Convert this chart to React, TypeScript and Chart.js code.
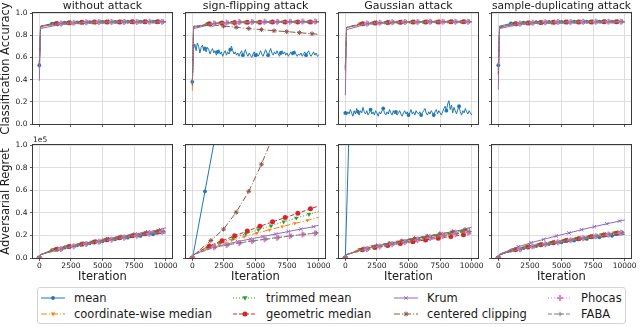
import React, { useEffect, useRef } from "react";
import { Chart, registerables } from "chart.js";
Chart.register(...registerables);

// ---------------- DATA ----------------
const ATTACKS = ["without attack", "sign-flipping attack", "Gaussian attack", "sample-duplicating attack"];
const METHODS = ["mean", "coordinate-wise median", "trimmed mean", "geometric median", "Krum", "centered clipping", "Phocas", "FABA"];
const ITER_TICKS = [0, 2500, 5000, 7500, 10000];
const Y_TICKS = [0, 0.2, 0.4, 0.6, 0.8, 1.0];
const ACC_LABEL = "Classification Accuracy";
const REGRET_LABEL = "Adversarial Regret";
const X_LABEL = "Iteration";
const REGRET_OFFSET_LABEL = "1e5";

// iteration positions for each method (markers are placed at these)
const X_MEAN = [0, 100, 1000, 2000, 3000, 4000, 5000, 6000, 7000, 8000, 9000, 10000];
const X_CWMED = [0, 100, 1110, 2110, 3110, 4110, 5110, 6110, 7110, 8110, 9110, 10000];
const X_TRIM = [0, 100, 1230, 2230, 3230, 4230, 5230, 6230, 7230, 8230, 9230, 10000];
const X_GEO = [0, 100, 1350, 2350, 3350, 4350, 5350, 6350, 7350, 8350, 9350, 10000];
const X_KRUM = [0, 100, 1590, 2590, 3590, 4590, 5590, 6590, 7590, 8590, 9590, 10000];
const X_CC = [0, 100, 1470, 2470, 3470, 4470, 5470, 6470, 7470, 8470, 9470, 10000];
const X_PHOCAS = [0, 100, 1710, 2710, 3710, 4710, 5710, 6710, 7710, 8710, 9710, 10000];
const X_FABA = [0, 100, 1830, 2830, 3830, 4830, 5830, 6830, 7830, 8830, 9830, 10000];
const X_DENSE = [
  0, 100, 200, 300, 400, 500, 600, 700, 800, 900,
  1000, 1100, 1200, 1300, 1400, 1500, 1600, 1700, 1800, 1900,
  2000, 2100, 2200, 2300, 2400, 2500, 2600, 2700, 2800, 2900,
  3000, 3100, 3200, 3300, 3400, 3500, 3600, 3700, 3800, 3900,
  4000, 4100, 4200, 4300, 4400, 4500, 4600, 4700, 4800, 4900,
  5000, 5100, 5200, 5300, 5400, 5500, 5600, 5700, 5800, 5900,
  6000, 6100, 6200, 6300, 6400, 6500, 6600, 6700, 6800, 6900,
  7000, 7100, 7200, 7300, 7400, 7500, 7600, 7700, 7800, 7900,
  8000, 8100, 8200, 8300, 8400, 8500, 8600, 8700, 8800, 8900,
  9000, 9100, 9200, 9300, 9400, 9500, 9600, 9700, 9800, 9900,
  10000,
];

// noisy accuracy of "mean" under attacks
const ACC_SIGNFLIP_MEAN = [
  0.38, 0.68, 0.72, 0.66, 0.73, 0.70, 0.64, 0.69, 0.71, 0.66,
  0.68, 0.65, 0.69, 0.67, 0.63, 0.66, 0.68, 0.64, 0.66, 0.62,
  0.65, 0.67, 0.63, 0.65, 0.61, 0.64, 0.66, 0.62, 0.65, 0.63,
  0.67, 0.70, 0.66, 0.63, 0.65, 0.62, 0.64, 0.61, 0.64, 0.66,
  0.62, 0.64, 0.67, 0.63, 0.61, 0.64, 0.62, 0.60, 0.63, 0.65,
  0.62, 0.64, 0.61, 0.63, 0.66, 0.63, 0.61, 0.64, 0.67, 0.64,
  0.62, 0.65, 0.68, 0.64, 0.62, 0.65, 0.63, 0.66, 0.63, 0.61,
  0.64, 0.66, 0.63, 0.65, 0.62, 0.64, 0.61, 0.63, 0.65, 0.62,
  0.64, 0.66, 0.63, 0.61, 0.63, 0.62, 0.64, 0.61, 0.63, 0.65,
  0.62, 0.64, 0.66, 0.63, 0.61, 0.63, 0.65, 0.62, 0.64, 0.61,
  0.62,
];
const ACC_GAUSS_MEAN = [
  0.10, 0.08, 0.11, 0.09, 0.13, 0.10, 0.07, 0.12, 0.09, 0.14,
  0.11, 0.08, 0.12, 0.10, 0.15, 0.11, 0.09, 0.12, 0.08, 0.10,
  0.13, 0.09, 0.11, 0.08, 0.12, 0.10, 0.07, 0.11, 0.09, 0.12,
  0.14, 0.10, 0.08, 0.11, 0.09, 0.13, 0.10, 0.08, 0.12, 0.09,
  0.11, 0.08, 0.10, 0.12, 0.09, 0.07, 0.10, 0.12, 0.09, 0.11,
  0.08, 0.10, 0.13, 0.09, 0.11, 0.08, 0.12, 0.10, 0.09, 0.11,
  0.08, 0.10, 0.12, 0.14, 0.10, 0.08, 0.11, 0.09, 0.12, 0.10,
  0.08, 0.11, 0.13, 0.09, 0.12, 0.10, 0.08, 0.11, 0.14, 0.16,
  0.12, 0.18, 0.21, 0.13, 0.17, 0.10, 0.15, 0.12, 0.09, 0.13,
  0.16, 0.11, 0.08, 0.12, 0.10, 0.14, 0.11, 0.09, 0.12, 0.10,
  0.08,
];

// Classification accuracy, rows in METHODS order
const ACC_NONE = [
  [0.53, 0.88, 0.905, 0.912, 0.916, 0.918, 0.92, 0.92, 0.921, 0.921, 0.922, 0.922],
  [0.55, 0.87, 0.90, 0.91, 0.914, 0.916, 0.918, 0.919, 0.92, 0.92, 0.921, 0.921],
  [0.52, 0.88, 0.905, 0.912, 0.916, 0.918, 0.92, 0.92, 0.921, 0.921, 0.922, 0.922],
  [0.50, 0.88, 0.905, 0.912, 0.916, 0.918, 0.919, 0.92, 0.921, 0.921, 0.921, 0.922],
  [0.39, 0.86, 0.895, 0.905, 0.91, 0.912, 0.914, 0.915, 0.916, 0.917, 0.917, 0.918],
  [0.54, 0.88, 0.905, 0.912, 0.916, 0.918, 0.92, 0.92, 0.921, 0.921, 0.922, 0.922],
  [0.50, 0.88, 0.905, 0.912, 0.916, 0.918, 0.919, 0.92, 0.92, 0.921, 0.921, 0.922],
  [0.53, 0.88, 0.906, 0.913, 0.917, 0.919, 0.92, 0.921, 0.921, 0.922, 0.922, 0.923],
];
const ACC_SIGNFLIP = [
  ACC_SIGNFLIP_MEAN,
  [0.30, 0.86, 0.90, 0.91, 0.915, 0.917, 0.918, 0.919, 0.92, 0.92, 0.921, 0.921],
  [0.35, 0.87, 0.905, 0.912, 0.916, 0.918, 0.919, 0.92, 0.92, 0.921, 0.921, 0.922],
  [0.36, 0.87, 0.903, 0.91, 0.914, 0.916, 0.917, 0.918, 0.919, 0.92, 0.92, 0.92],
  [0.34, 0.86, 0.90, 0.908, 0.912, 0.914, 0.916, 0.917, 0.918, 0.918, 0.919, 0.919],
  [0.36, 0.88, 0.893, 0.882, 0.872, 0.86, 0.85, 0.84, 0.832, 0.823, 0.813, 0.808],
  [0.37, 0.88, 0.905, 0.914, 0.918, 0.92, 0.921, 0.922, 0.922, 0.923, 0.923, 0.923],
  [0.37, 0.88, 0.906, 0.914, 0.918, 0.92, 0.921, 0.922, 0.922, 0.923, 0.923, 0.924],
];
const ACC_GAUSS = [
  ACC_GAUSS_MEAN,
  [0.50, 0.87, 0.902, 0.91, 0.914, 0.917, 0.918, 0.919, 0.92, 0.92, 0.921, 0.921],
  [0.52, 0.87, 0.904, 0.912, 0.916, 0.918, 0.919, 0.92, 0.921, 0.921, 0.922, 0.922],
  [0.48, 0.87, 0.903, 0.911, 0.915, 0.917, 0.919, 0.92, 0.92, 0.921, 0.921, 0.922],
  [0.26, 0.85, 0.897, 0.906, 0.91, 0.913, 0.915, 0.916, 0.917, 0.917, 0.918, 0.918],
  [0.50, 0.87, 0.904, 0.912, 0.916, 0.918, 0.919, 0.92, 0.921, 0.921, 0.922, 0.922],
  [0.50, 0.87, 0.905, 0.913, 0.917, 0.919, 0.92, 0.921, 0.921, 0.922, 0.922, 0.923],
  [0.51, 0.87, 0.905, 0.913, 0.917, 0.919, 0.92, 0.921, 0.922, 0.922, 0.923, 0.923],
];
const ACC_DUPLICATE = [
  [0.53, 0.88, 0.906, 0.913, 0.917, 0.919, 0.92, 0.921, 0.921, 0.922, 0.922, 0.922],
  [0.47, 0.87, 0.90, 0.909, 0.913, 0.915, 0.917, 0.918, 0.919, 0.919, 0.92, 0.92],
  [0.50, 0.88, 0.904, 0.912, 0.916, 0.918, 0.919, 0.92, 0.921, 0.921, 0.921, 0.922],
  [0.44, 0.87, 0.903, 0.911, 0.915, 0.917, 0.919, 0.92, 0.92, 0.921, 0.921, 0.921],
  [0.31, 0.86, 0.895, 0.904, 0.908, 0.911, 0.913, 0.914, 0.915, 0.916, 0.916, 0.917],
  [0.45, 0.87, 0.904, 0.912, 0.916, 0.918, 0.919, 0.92, 0.921, 0.921, 0.922, 0.922],
  [0.48, 0.88, 0.905, 0.913, 0.917, 0.919, 0.92, 0.921, 0.921, 0.922, 0.922, 0.922],
  [0.50, 0.88, 0.906, 0.913, 0.917, 0.919, 0.92, 0.921, 0.922, 0.922, 0.923, 0.923],
];

// Adversarial regret (in units of 1e5), rows in METHODS order
const REG_NONE = [
  [0, 0.03, 0.07, 0.093, 0.112, 0.13, 0.148, 0.165, 0.18, 0.195, 0.21, 0.222],
  [0, 0.03, 0.077, 0.102, 0.123, 0.143, 0.163, 0.182, 0.2, 0.217, 0.234, 0.248],
  [0, 0.03, 0.076, 0.10, 0.121, 0.141, 0.16, 0.178, 0.196, 0.213, 0.229, 0.24],
  [0, 0.03, 0.078, 0.102, 0.122, 0.142, 0.161, 0.179, 0.197, 0.214, 0.23, 0.238],
  [0, 0.03, 0.08, 0.107, 0.13, 0.151, 0.172, 0.192, 0.212, 0.232, 0.252, 0.268],
  [0, 0.03, 0.079, 0.104, 0.125, 0.145, 0.165, 0.184, 0.203, 0.221, 0.238, 0.245],
  [0, 0.03, 0.08, 0.104, 0.124, 0.143, 0.162, 0.18, 0.198, 0.215, 0.232, 0.236],
  [0, 0.03, 0.081, 0.105, 0.125, 0.145, 0.164, 0.182, 0.20, 0.217, 0.234, 0.238],
];
const REG_SIGNFLIP = [
  [0, 0.05, 0.59, 1.19, 1.79, 2.39, 2.99, 3.59, 4.19, 4.79, 5.39, 5.99],
  [0, 0.03, 0.09, 0.125, 0.158, 0.19, 0.22, 0.25, 0.278, 0.306, 0.333, 0.36],
  [0, 0.03, 0.098, 0.138, 0.176, 0.214, 0.25, 0.285, 0.32, 0.354, 0.386, 0.41],
  [0, 0.03, 0.107, 0.152, 0.196, 0.238, 0.28, 0.32, 0.358, 0.396, 0.435, 0.46],
  [0, 0.03, 0.095, 0.12, 0.145, 0.168, 0.19, 0.212, 0.234, 0.256, 0.277, 0.29],
  [0, 0.025, 0.155, 0.255, 0.405, 0.59, 0.83, 1.1, 1.42, 1.8, 2.2, 2.45],
  [0, 0.03, 0.095, 0.115, 0.133, 0.15, 0.165, 0.18, 0.194, 0.207, 0.22, 0.227],
  [0, 0.03, 0.097, 0.117, 0.135, 0.152, 0.167, 0.182, 0.196, 0.209, 0.222, 0.226],
];
const REG_GAUSS = [
  [0, 0.38, 3.8, 7.6, 11.4, 15.2, 19.0, 22.8, 26.6, 30.4, 34.2, 38.0],
  [0, 0.03, 0.078, 0.103, 0.124, 0.144, 0.164, 0.183, 0.201, 0.219, 0.237, 0.25],
  [0, 0.03, 0.077, 0.101, 0.122, 0.142, 0.161, 0.18, 0.198, 0.215, 0.232, 0.245],
  [0, 0.03, 0.072, 0.093, 0.111, 0.128, 0.144, 0.16, 0.175, 0.19, 0.205, 0.215],
  [0, 0.03, 0.082, 0.108, 0.131, 0.153, 0.175, 0.196, 0.216, 0.236, 0.256, 0.275],
  [0, 0.03, 0.081, 0.107, 0.129, 0.151, 0.172, 0.192, 0.212, 0.231, 0.25, 0.27],
  [0, 0.03, 0.079, 0.102, 0.122, 0.141, 0.159, 0.177, 0.194, 0.21, 0.226, 0.235],
  [0, 0.03, 0.08, 0.104, 0.125, 0.145, 0.164, 0.182, 0.20, 0.217, 0.234, 0.242],
];
const REG_DUPLICATE = [
  [0, 0.025, 0.066, 0.088, 0.106, 0.123, 0.139, 0.154, 0.169, 0.183, 0.197, 0.21],
  [0, 0.03, 0.075, 0.099, 0.119, 0.138, 0.156, 0.173, 0.19, 0.206, 0.222, 0.232],
  [0, 0.03, 0.076, 0.10, 0.12, 0.139, 0.157, 0.174, 0.191, 0.207, 0.223, 0.232],
  [0, 0.03, 0.074, 0.097, 0.117, 0.136, 0.154, 0.171, 0.188, 0.204, 0.219, 0.226],
  [0, 0.035, 0.10, 0.135, 0.165, 0.195, 0.222, 0.25, 0.277, 0.303, 0.327, 0.336],
  [0, 0.03, 0.077, 0.101, 0.121, 0.14, 0.158, 0.175, 0.192, 0.208, 0.224, 0.23],
  [0, 0.03, 0.078, 0.101, 0.121, 0.14, 0.158, 0.175, 0.192, 0.208, 0.223, 0.228],
  [0, 0.03, 0.079, 0.102, 0.122, 0.141, 0.159, 0.176, 0.193, 0.209, 0.224, 0.229],
];

// ---------------- TABLES BUILT FROM DATA ----------------
const X_BY_METHOD = [X_MEAN, X_CWMED, X_TRIM, X_GEO, X_KRUM, X_CC, X_PHOCAS, X_FABA];
const ACC_PANELS = [ACC_NONE, ACC_SIGNFLIP, ACC_GAUSS, ACC_DUPLICATE];
const REG_PANELS = [REG_NONE, REG_SIGNFLIP, REG_GAUSS, REG_DUPLICATE];

// ---------------- STYLE ----------------
const FONT = "'DejaVu Sans', sans-serif";
const GRID = "#d6d6d6";
const TICKC = "#333333";
const TEXTC = "#1a1a1a";
const W = 640;
const H = 327;
const PLOT_LEFTS = [33, 186, 339, 492];
const PLOT_W = 139;
const ROW_TOPS = [13, 145];
const ROW_BOTTOMS = [124, 258];

type St = { color: string; dash: number[]; ps: string; rot: number; r: number; pbw: number };
const STYLES: St[] = [
  { color: "#1f77b4", dash: [], ps: "circle", rot: 0, r: 1.9, pbw: 0 },
  { color: "#ff7f0e", dash: [6, 2, 1, 2], ps: "triangle", rot: 180, r: 2.2, pbw: 0 },
  { color: "#2ca02c", dash: [1, 2], ps: "triangle", rot: 180, r: 2.6, pbw: 0 },
  { color: "#d62728", dash: [4, 2], ps: "circle", rot: 0, r: 2.5, pbw: 0 },
  { color: "#9467bd", dash: [], ps: "crossRot", rot: 0, r: 2.4, pbw: 1 },
  { color: "#8c564b", dash: [6, 2, 1, 2], ps: "star", rot: 0, r: 2.4, pbw: 1 },
  { color: "#e377c2", dash: [1, 2], ps: "cross", rot: 0, r: 3, pbw: 1.8 },
  { color: "#7f7f7f", dash: [4, 2], ps: "cross", rot: 0, r: 2.2, pbw: 1 },
];

const framePlugin = {
  id: "frame",
  afterDatasetsDraw(chart: any) {
    const { ctx, chartArea: a } = chart;
    ctx.save();
    ctx.strokeStyle = "#3a3a3a";
    ctx.lineWidth = 1;
    ctx.setLineDash([]);
    ctx.strokeRect(Math.round(a.left) - 0.5, Math.round(a.top) - 0.5, Math.round(a.right - a.left) + 1, Math.round(a.bottom - a.top) + 1);
    ctx.restore();
  },
};

const offsetPlugin = {
  id: "offsetText",
  afterDraw(chart: any) {
    const { ctx, chartArea: a } = chart;
    ctx.save();
    ctx.font = `7.5px ${FONT}`;
    ctx.fillStyle = TEXTC;
    ctx.textAlign = "left";
    ctx.textBaseline = "bottom";
    ctx.fillText(REGRET_OFFSET_LABEL, a.left, a.top - 1);
    ctx.restore();
  },
};

function makeConfig(r: number, c: number): any {
  const panel = r === 0 ? ACC_PANELS[c] : REG_PANELS[c];
  const datasets = METHODS.map((name, m) => {
    const ys = panel[m];
    const dense = ys.length === X_DENSE.length;
    const xs = dense ? X_DENSE : X_BY_METHOD[m];
    const st = STYLES[m];
    const radii = xs.map((_, i) => {
      if (dense) return i % 10 === 0 && i < xs.length - 1 ? st.r : 0;
      if (i === 1 || i === xs.length - 1) return 0;
      if (i === 0 && r === 0 && m !== 0) return 0;
      return st.r;
    });
    return {
      label: name,
      data: xs.map((x, i) => ({ x, y: ys[i] })),
      borderColor: st.color,
      backgroundColor: st.color,
      borderWidth: 1,
      borderDash: st.dash,
      pointStyle: st.ps,
      pointRotation: st.rot,
      pointRadius: radii,
      pointBorderWidth: st.pbw,
      pointBackgroundColor: st.color,
      pointBorderColor: st.color,
      tension: 0,
      fill: false,
      order: 7 - m,
    };
  });
  const L = PLOT_LEFTS[c];
  const yW = c === 0 ? 33 : 4;
  const xH = r === 0 ? 4 : 26;
  const gridOpts = { color: GRID, lineWidth: 0.8, drawTicks: true, tickLength: 3, tickColor: TICKC, tickWidth: 0.8 };
  return {
    type: "line",
    data: { datasets },
    plugins: r === 1 && c === 0 ? [framePlugin, offsetPlugin] : [framePlugin],
    options: {
      responsive: false,
      maintainAspectRatio: false,
      devicePixelRatio: 1,
      animation: false,
      events: [],
      layout: {
        padding: {
          left: L - yW,
          right: W - (L + PLOT_W),
          top: r === 0 ? 0 : ROW_TOPS[1],
          bottom: H - ROW_BOTTOMS[r] - xH,
        },
      },
      plugins: {
        legend: { display: false },
        tooltip: { enabled: false },
        title: {
          display: r === 0,
          text: ATTACKS[c],
          fullSize: false,
          color: TEXTC,
          font: { family: FONT, size: 11, weight: "normal", lineHeight: "12px" },
          padding: { top: 0, bottom: 1 },
        },
      },
      scales: {
        x: {
          type: "linear",
          min: -500,
          max: 10500,
          afterBuildTicks: (s: any) => {
            s.ticks = ITER_TICKS.map((v) => ({ value: v }));
          },
          afterFit: (s: any) => {
            s.height = xH;
            s.paddingLeft = 0;
            s.paddingRight = 0;
          },
          grid: gridOpts,
          border: { display: false },
          ticks: {
            display: r === 1,
            autoSkip: false,
            maxRotation: 0,
            minRotation: 0,
            padding: 1,
            color: TEXTC,
            font: { family: FONT, size: 7.5 },
            callback: (v: any) => String(v),
          },
          title: {
            display: r === 1,
            text: X_LABEL,
            color: TEXTC,
            font: { family: FONT, size: 11.5, lineHeight: "13px" },
            padding: 0,
          },
        },
        y: {
          type: "linear",
          min: 0,
          max: 1,
          afterBuildTicks: (s: any) => {
            s.ticks = Y_TICKS.map((v) => ({ value: v }));
          },
          afterFit: (s: any) => {
            s.width = yW;
            s.paddingTop = 0;
            s.paddingBottom = 0;
          },
          grid: gridOpts,
          border: { display: false },
          ticks: {
            display: c === 0,
            padding: 2.5,
            color: TEXTC,
            font: { family: FONT, size: 7.5 },
            callback: (v: any) => Number(v).toFixed(1),
          },
          title: {
            display: c === 0,
            text: r === 0 ? ACC_LABEL : REGRET_LABEL,
            color: TEXTC,
            font: { family: FONT, size: 11.5, lineHeight: "13px" },
            padding: 0,
          },
        },
      },
    },
  };
}

function LegendMarker({ m }: { m: number }) {
  const st = STYLES[m];
  const cx = 12;
  const cy = 8;
  const col = st.color;
  const r = st.r;
  switch (st.ps) {
    case "circle":
      return <circle cx={cx} cy={cy} r={r} fill={col} />;
    case "triangle":
      return <polygon points={`${cx},${cy + r * 1.1} ${cx - r},${cy - r * 0.7} ${cx + r},${cy - r * 0.7}`} fill={col} />;
    case "crossRot":
      return (
        <g stroke={col} strokeWidth={st.pbw}>
          <line x1={cx - r * 0.7} y1={cy - r * 0.7} x2={cx + r * 0.7} y2={cy + r * 0.7} />
          <line x1={cx - r * 0.7} y1={cy + r * 0.7} x2={cx + r * 0.7} y2={cy - r * 0.7} />
        </g>
      );
    case "star":
      return (
        <g stroke={col} strokeWidth={st.pbw}>
          <line x1={cx - r} y1={cy} x2={cx + r} y2={cy} />
          <line x1={cx} y1={cy - r} x2={cx} y2={cy + r} />
          <line x1={cx - r * 0.7} y1={cy - r * 0.7} x2={cx + r * 0.7} y2={cy + r * 0.7} />
          <line x1={cx - r * 0.7} y1={cy + r * 0.7} x2={cx + r * 0.7} y2={cy - r * 0.7} />
        </g>
      );
    default:
      return (
        <g stroke={col} strokeWidth={st.pbw}>
          <line x1={cx - r} y1={cy} x2={cx + r} y2={cy} />
          <line x1={cx} y1={cy - r} x2={cx} y2={cy + r} />
        </g>
      );
  }
}

const LEGEND_COL_X = [4, 196, 357, 511];

function Legend() {
  return (
    <div
      style={{
        position: "absolute",
        left: 37,
        top: 287,
        width: 589,
        height: 37,
        border: "1px solid #d4d4d4",
        borderRadius: 3,
        background: "#fff",
        boxSizing: "border-box",
      }}
    >
      {METHODS.map((name, m) => {
        const col = Math.floor(m / 2);
        const row = m % 2;
        const st = STYLES[m];
        return (
          <div
            key={name}
            style={{
              position: "absolute",
              left: LEGEND_COL_X[col] - 1,
              top: 2 + row * 16,
              height: 16,
              display: "flex",
              alignItems: "center",
              whiteSpace: "nowrap",
            }}
          >
            <svg width={24} height={16} style={{ display: "block" }}>
              <line x1={0} y1={8} x2={24} y2={8} stroke={st.color} strokeWidth={1} strokeDasharray={st.dash.length ? st.dash.join(" ") : undefined} />
              <LegendMarker m={m} />
            </svg>
            <span style={{ marginLeft: 9, fontFamily: FONT, fontSize: 11.5, color: TEXTC, lineHeight: "16px" }}>{name}</span>
          </div>
        );
      })}
    </div>
  );
}

const PANELS: [number, number][] = [
  [0, 0], [0, 1], [0, 2], [0, 3],
  [1, 0], [1, 1], [1, 2], [1, 3],
];

export default function App() {
  const refs = useRef<(HTMLCanvasElement | null)[]>([]);
  useEffect(() => {
    document.body.style.margin = "0";
    const charts = PANELS.map(([r, c], i) => new Chart(refs.current[i] as HTMLCanvasElement, makeConfig(r, c)));
    return () => charts.forEach((ch) => ch.destroy());
  }, []);
  return (
    <div style={{ position: "fixed", left: 0, top: 0, width: W, height: H, background: "#fff", overflow: "hidden" }}>
      {PANELS.map((_, i) => (
        <canvas
          key={i}
          ref={(el) => {
            refs.current[i] = el;
          }}
          width={W}
          height={H}
          style={{ position: "absolute", left: 0, top: 0, width: W, height: H }}
        />
      ))}
      <Legend />
    </div>
  );
}
